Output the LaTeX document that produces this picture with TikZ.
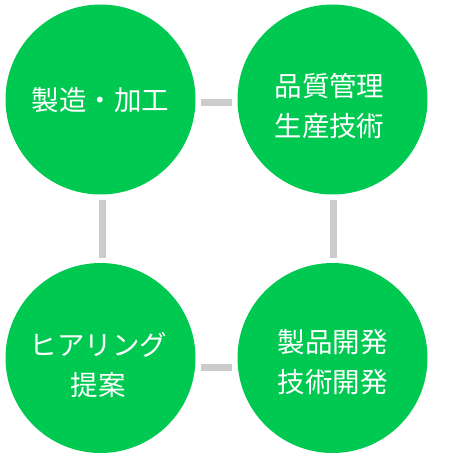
\documentclass[tikz,border=0pt]{standalone}
\usepackage{fontspec}
\newfontfamily\cjk{Noto Sans CJK JP}
\definecolor{circgreen}{RGB}{0,201,82}
\definecolor{linkgray}{RGB}{204,204,204}
\begin{document}
\begin{tikzpicture}[x=1pt,y=-1pt,
  blob/.style={circle,fill=circgreen,draw=none,minimum size=190pt,inner sep=0pt},
  lbl/.style={text=white,align=center,font=\cjk\fontsize{27.5}{40}\selectfont,inner sep=0pt},
  link/.style={draw=linkgray,line width=7pt,shorten <=5pt,shorten >=5pt}]
\useasboundingbox (0,0) rectangle (452,459);
\node[blob] (c1) at (100.5,99.5) {};
\node[blob] (c2) at (332.5,99.5) {};
\node[blob] (c3) at (100.5,358) {};
\node[blob] (c4) at (332.5,358) {};
\node[lbl] (t1) at ([yshift=-1pt]c1.center) {製造・加工};
\node[lbl] (t2) at ([yshift=-6pt,xshift=-3pt]c2.center) {品質管理\\生産技術};
\node[lbl] (t3) at ([yshift=-7pt,xshift=-2pt]c3.center) {ヒアリング\\提案};
\node[lbl] (t4) at ([yshift=-4pt]c4.center) {製品開発\\技術開発};
\draw[link] ([yshift=-3pt]c1.east) -- ([yshift=-3pt]c2.west);
\draw[link] ([yshift=-9pt]c3.east) -- ([yshift=-9pt]c4.west);
\draw[link] ([xshift=2pt]c1.south) -- ([xshift=2pt]c3.north);
\draw[link] ([xshift=1pt]c2.south) -- ([xshift=1pt]c4.north);
\end{tikzpicture}
\end{document}
